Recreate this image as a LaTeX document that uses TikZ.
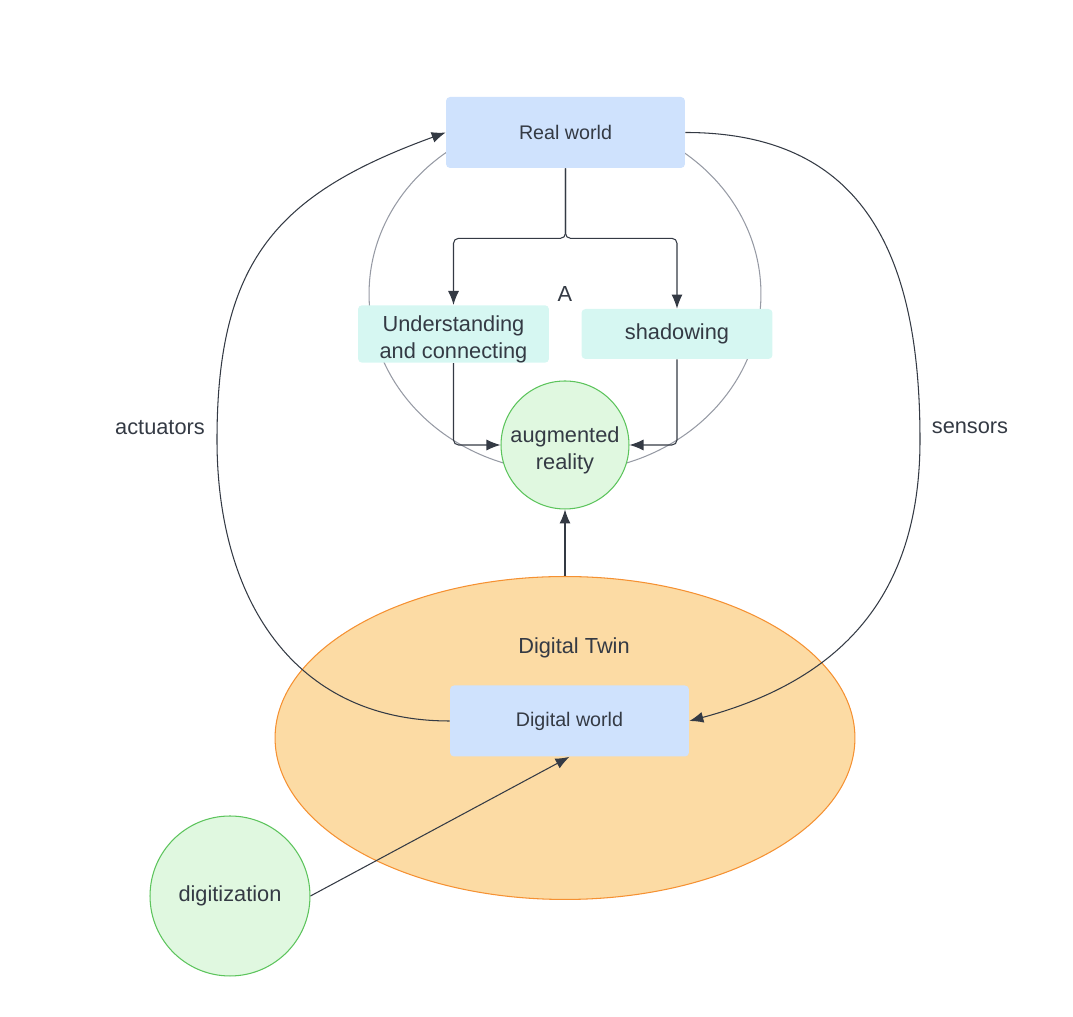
\documentclass[tikz,border=0pt]{standalone}
\usepackage{fontspec}
\setmainfont{Liberation Sans}
\usepackage{xcolor}
\usepackage{tikz}
\usetikzlibrary{arrows.meta, positioning, shapes.geometric, calc}

\definecolor{boxblue}{RGB}{207,226,253}
\definecolor{boxteal}{RGB}{214,247,242}
\definecolor{arfill}{RGB}{224,248,224}
\definecolor{arline}{RGB}{92,196,92}
\definecolor{twinfill}{RGB}{252,219,164}
\definecolor{twinline}{RGB}{245,145,50}
\definecolor{inkgray}{RGB}{52,58,68}
\definecolor{ringgray}{RGB}{150,154,164}

% strut that pushes a two-line text a little lower
\newcommand{\lowstrut}{\rule{0pt}{14.8pt}}

\begin{document}
\begin{tikzpicture}[x=0.02cm, y=0.02cm,
  every node/.style={text=inkgray, font=\fontsize{12.4}{15.3}\selectfont},
  worldbox/.style={fill=boxblue, rounded corners=0.08cm, minimum width=4.78cm,
    minimum height=1.42cm, font=\fontsize{11.2}{13.5}\selectfont},
  stepbox/.style={fill=boxteal, rounded corners=0.08cm, minimum width=3.82cm,
    minimum height=1.0cm, align=center, inner sep=0pt},
  bubble/.style={circle, fill=arfill, draw=arline, line width=0.6pt, align=center, inner sep=0pt},
  link/.style={draw=inkgray, line width=0.6pt, -{Latex[length=0.28cm, width=0.22cm]}}
]
  % page size, 1 unit = 1 px of the reference
  \useasboundingbox (0,0) rectangle (1073,1017);
  % grey ring "A" behind the upper part
  \node[ellipse, draw=ringgray, line width=0.6pt, minimum width=7.84cm,
        minimum height=7.12cm, inner sep=0pt] (ring) at (565,723) {A};
  % Digital Twin ellipse
  \node[ellipse, fill=twinfill, draw=twinline, line width=0.6pt, minimum width=11.6cm,
        minimum height=6.46cm] (twin) at (565,279) {};
  \node (twinlbl) at (574,369) {Digital Twin};
  % boxes
  \node[worldbox] (rw) at (565.5,884.5) {Real world};
  \node[worldbox] (dw) at (569.5,296) {Digital world};
  \node[stepbox] (und) at (453.5,683) {\lowstrut Understanding\\and connecting};
  \node[stepbox] (shd) at (677,683) {shadowing};
  % circles
  \node[bubble, minimum size=2.56cm] (ar) at (565,572) {\lowstrut augmented\\reality};
  \node[bubble, minimum size=3.2cm] (dig) at (230,121) {digitization};
  % side labels
  \node (actlbl) at (160,589) {actuators};
  \node (senlbl) at (970,589) {sensors};
  \coordinate (actmid) at (217,577);
  \coordinate (senmid) at (920,577);
  % connectors inside the ring
  \draw[link, rounded corners=0.1cm] (rw.south) -- ++(0,-70) -| (und.north);
  \draw[link, rounded corners=0.1cm] (rw.south) -- ++(0,-70) -| (shd.north);
  \draw[link, rounded corners=0.1cm] (und.south) |- (ar.west);
  \draw[link, rounded corners=0.1cm] (shd.south) |- (ar.east);
  \draw[link] (twin.north) -- (ar.south);
  % actuators and sensors loops
  \draw[link] (dw.west) to[out=180, in=-90, looseness=1.1] (actmid)
                        to[out=90, in=200, looseness=1.2] (rw.west);
  \draw[link] (rw.east) to[out=0, in=90, looseness=1.2] (senmid)
                        to[out=-90, in=15, looseness=1.1] (dw.east);
  \draw[link] (dig.east) -- (dw.south);
\end{tikzpicture}
\end{document}
